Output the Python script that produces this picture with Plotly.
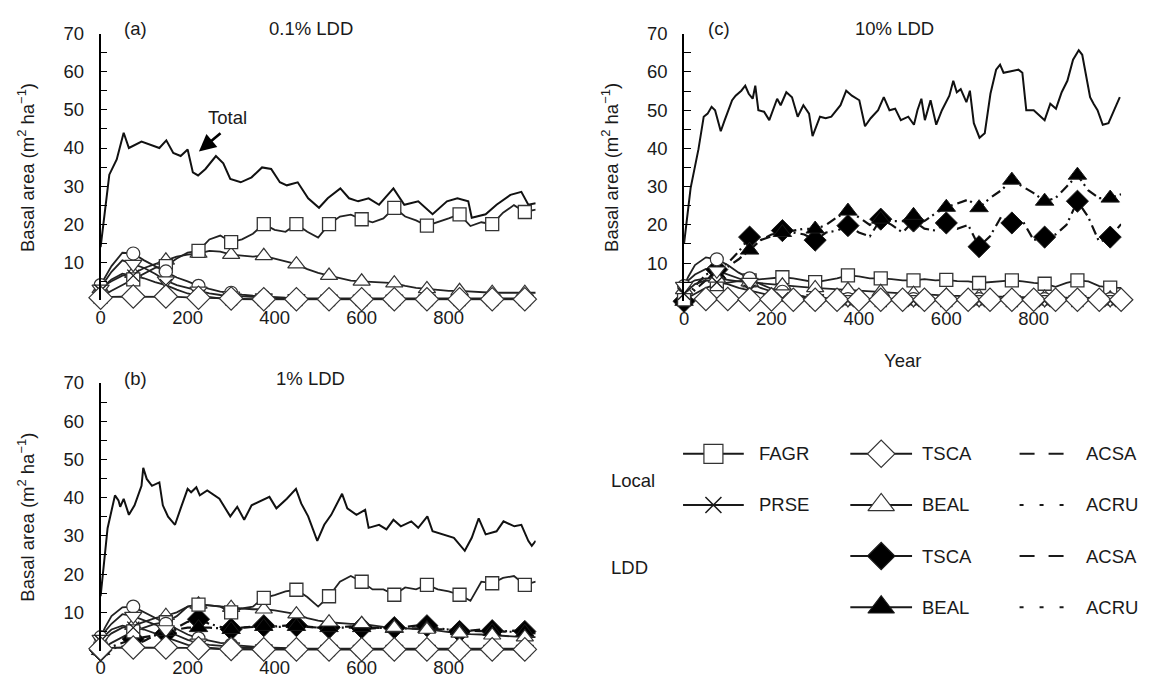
import plotly.graph_objects as go

# The page body adds an 8 px margin, so the figure is drawn 8 px smaller and all
# reference pixel positions are shifted by that offset.
PAGE_W, PAGE_H = 1150, 683
OFF = 8
W, H = PAGE_W - OFF, PAGE_H - OFF
FONT = "Liberation Sans, Arial, Helvetica, sans-serif"
INK = "#1a1a1a"
FS = 18.5

# ---------------- data ----------------
YEARS = [0, 10, 25, 50, 75, 100, 125, 150, 175, 200, 225, 250, 275, 300, 325, 350, 375, 400,
         425, 450, 475, 500, 525, 550, 575, 600, 625, 650, 675, 700, 725, 750, 775, 800, 825,
         850, 875, 900, 925, 950, 975, 1000]

# Panel (a) 0.1% LDD
TOTAL_A_YR = [0, 20, 37, 53, 65, 94, 135, 151, 167, 184, 200, 212, 224, 241, 265, 282, 298, 322, 347,
              371, 392, 412, 428, 453, 477, 502, 522, 551, 571, 592, 616, 640, 673, 698, 730, 763,
              796, 820, 845, 853, 885, 910, 942, 967, 983, 1000]
TOTAL_A = [14, 33, 37, 44, 40, 41.7, 40, 42, 38.7, 37.9, 39.6, 33.6, 32.8, 34.5, 37.9, 36, 31.9, 31,
           32.3, 34.9, 34.5, 31, 30.2, 31, 26.8, 24.3, 26.8, 29.4, 26.8, 26, 26.8, 25.1, 29.4, 25.1,
           26, 22.6, 26, 26.8, 26, 21.7, 22.6, 25.1, 27.7, 28.5, 25.1, 25.5]
FAGR_A = [1.0, 1.5, 2.5, 4.0, 5.5, 7.0, 8.5, 9.0, 11.0, 12.5, 13.0, 16.0, 17.0, 15.3, 16.0, 17.5, 20.0,
          18.5, 18.0, 20.0, 18.0, 16.5, 20.0, 22.0, 22.5, 21.3, 20.5, 21.5, 24.3, 22.0, 21.0, 19.6,
          20.5, 21.5, 22.6, 19.5, 20.5, 20.0, 23.0, 25.0, 23.2, 23.8]
BEAL_A = [3, 4, 5, 6.5, 7, 8.5, 9.5, 10.5, 11.5, 12, 12.3, 13, 12.8, 12, 11.8, 11.5, 11.7, 11, 10.2,
          9.5, 8.2, 7.2, 6.5, 5.8, 5.2, 5, 4.8, 4.6, 4.5, 3.8, 3.3, 3, 2.7, 2.5, 2.5, 2.3, 2.1, 2,
          2, 2, 2, 2]
ACSA_A = [4, 6, 9, 12.5, 12.3, 10.5, 9, 7.6, 6, 5, 3.8, 3, 2.3, 2, 1.5, 1.2, 1, 0.8, 0.7, 0.6, 0.6,
          0.6, 0.5, 0.5, 0.5, 0.5, 0.5, 0.5, 0.5, 0.5, 0.5, 0.5, 0.5, 0.5, 0.5, 0.5, 0.5, 0.5, 0.5,
          0.5, 0.5, 0.5]
ACRU_A = [3, 5, 7.5, 10.5, 9.5, 8.5, 7, 5.2, 4, 3.3, 2.5, 1.8, 1.4, 1.2, 1, 0.8, 0.7, 0.6, 0.5, 0.5,
          0.4, 0.4, 0.4, 0.4, 0.4, 0.4, 0.4, 0.4, 0.4, 0.4, 0.4, 0.4, 0.4, 0.4, 0.4, 0.4, 0.4, 0.4,
          0.4, 0.4, 0.4, 0.4]
PRSE_A = [2.5, 4, 5.5, 7, 6.5, 5.8, 4.8, 4, 2.8, 1.8, 1.2, 0.8, 0.5, 0.3, 0.2, 0.1, 0.1, 0.1, 0.1,
          0.1, 0.1, 0.1, 0.1, 0.1, 0.1, 0.1, 0.1, 0.1, 0.1, 0.1, 0.1, 0.1, 0.1, 0.1, 0.1, 0.1, 0.1,
          0.1, 0.1, 0.1, 0.1, 0.1]
TSCA_A = [0.7, 0.8, 0.9, 1, 1, 1, 1, 1, 0.9, 0.8, 0.7, 0.6, 0.5, 0.5, 0.4, 0.3, 0.3, 0.3, 0.3, 0.3,
          0.3, 0.3, 0.3, 0.3, 0.3, 0.3, 0.3, 0.3, 0.3, 0.3, 0.3, 0.3, 0.3, 0.3, 0.3, 0.3, 0.3, 0.3,
          0.3, 0.3, 0.3, 0.3]

# Panel (b) 1% LDD
TOTAL_B_YR = [0, 16, 33, 41, 45, 53, 65, 78, 94, 98, 106, 118, 135, 143, 155, 171, 184, 200, 208, 220,
              228, 245, 273, 298, 314, 330, 347, 363, 388, 404, 428, 449, 461, 477, 498, 514, 530,
              555, 567, 588, 608, 616, 640, 657, 673, 690, 714, 730, 751, 763, 787, 812, 837, 853,
              869, 885, 910, 926, 951, 967, 983, 991, 1000]
TOTAL_B = [14.2, 32, 40.6, 39.3, 37.6, 39.7, 35.5, 38, 43.1, 47.8, 44.9, 43.1, 44, 38, 35, 32.9, 37.2,
           42.3, 41.4, 42.7, 40.6, 41.9, 39.7, 35.1, 37.6, 34.2, 38, 38.9, 40.2, 37.2, 39.7, 42.3,
           38.5, 35.1, 28.7, 32.9, 35.5, 41, 37.2, 35.5, 36.8, 32.1, 32.9, 31.7, 34.2, 32.5, 33.8,
           32.1, 35.1, 31.2, 30.4, 29.5, 26.1, 29.5, 34.6, 30.4, 31.2, 33.8, 32.5, 32.9, 28.7, 27.4,
           28.7]
FAGR_B = [0.5, 1, 2, 3.5, 5, 6, 7, 7.4, 9, 11.5, 12, 11.8, 11.5, 10, 11, 11.5, 13.8, 14.5, 15.5, 15.9,
          14, 11.5, 14.2, 18, 19.5, 18, 16, 16, 14.6, 16.5, 16, 17.2, 16, 15.5, 14.6, 13, 18, 17.6,
          19, 19.5, 17.2, 18]
BEAL_B = [2, 3, 4.5, 6, 6.5, 7.5, 8.5, 9.1, 10, 11.5, 12.1, 11.8, 11.5, 11.2, 11, 10.8, 10.8, 10.5,
          10, 9.5, 8.5, 7.8, 7.4, 7.2, 7, 7, 6.5, 6.2, 6, 5.8, 5.6, 5.5, 5.2, 4.8, 4.5, 4.3, 4.2, 4,
          3.8, 3.7, 3.5, 3.5]
ACSA_B = [3.5, 6, 9, 11.3, 11.5, 10, 8.5, 7, 5.5, 4.2, 3.2, 2.5, 2, 1.5, 1.2, 1, 0.8, 0.7, 0.6, 0.6,
          0.5, 0.5, 0.5, 0.5, 0.5, 0.5, 0.5, 0.5, 0.5, 0.5, 0.5, 0.5, 0.5, 0.5, 0.5, 0.5, 0.5, 0.5,
          0.5, 0.5, 0.5, 0.5]
ACRU_B = [3, 5, 7, 9.5, 9, 8, 6.8, 5.5, 4, 2.8, 2, 1.5, 1.2, 1, 0.8, 0.6, 0.5, 0.5, 0.4, 0.4, 0.4,
          0.4, 0.4, 0.4, 0.4, 0.4, 0.4, 0.4, 0.4, 0.4, 0.4, 0.4, 0.4, 0.4, 0.4, 0.4, 0.4, 0.4, 0.4,
          0.4, 0.4, 0.4]
PRSE_B = [2.5, 4, 5.5, 6.5, 6, 5.5, 4.5, 3.5, 2.5, 1.5, 1, 0.6, 0.4, 0.2, 0.2, 0.1, 0.1, 0.1, 0.1,
          0.1, 0.1, 0.1, 0.1, 0.1, 0.1, 0.1, 0.1, 0.1, 0.1, 0.1, 0.1, 0.1, 0.1, 0.1, 0.1, 0.1, 0.1,
          0.1, 0.1, 0.1, 0.1, 0.1]
TSCA_B = [0.5, 0.6, 0.7, 0.8, 0.8, 0.8, 0.8, 0.8, 0.7, 0.7, 0.6, 0.5, 0.5, 0.4, 0.4, 0.3, 0.3, 0.3,
          0.3, 0.3, 0.3, 0.3, 0.3, 0.3, 0.3, 0.3, 0.3, 0.3, 0.3, 0.3, 0.3, 0.3, 0.3, 0.3, 0.3, 0.3,
          0.3, 0.3, 0.3, 0.3, 0.3, 0.3]
TSCA_LDD_B = [0, 0.3, 1, 2, 3, 3.5, 4, 4.5, 6, 7.5, 8.2, 7, 6.2, 5.6, 6, 6.3, 6.5, 6.3, 6.5, 6.5, 6.2,
              6, 6, 6.2, 6.3, 6, 5.8, 6, 6, 6.2, 6.5, 6.5, 5.8, 5.5, 5, 5.2, 5.5, 5.2, 5, 5.2, 5, 4.5]
BEAL_LDD_B = [0, 0.2, 0.5, 1, 1.5, 2.5, 4, 5, 5.5, 6, 6, 6, 5.8, 5.5, 6, 6.2, 6.3, 6.2, 6.2, 6.3, 6.2,
              6, 6, 6, 6.1, 6, 6, 5.9, 5.8, 5.8, 5.8, 5.8, 5.6, 5.5, 5.2, 5.2, 5.1, 5, 5, 4.9, 4.8, 4.8]

# Panel (c) 10% LDD
TOTAL_C_YR = [0, 15, 33, 45, 54, 63, 71, 80, 84, 93, 101, 110, 118, 131, 140, 148, 157, 163, 170, 183,
              195, 213, 221, 234, 247, 260, 273, 286, 294, 311, 324, 337, 358, 371, 384, 401, 414,
              427, 444, 457, 470, 483, 496, 513, 526, 534, 543, 551, 564, 577, 590, 607, 616, 624,
              633, 646, 654, 663, 676, 688, 701, 714, 723, 731, 748, 765, 774, 783, 800, 817, 825,
              838, 851, 864, 877, 890, 903, 911, 920, 929, 937, 946, 958, 971, 984, 997]
TOTAL_C = [15.1, 29.6, 39.8, 48.3, 49.1, 50.9, 50, 46.6, 44.5, 47.4, 50, 52.6, 53.8, 55.1, 56.4, 54.3,
           53, 56.4, 50, 49.6, 47.4, 53, 51.3, 54.7, 53.4, 48.3, 51.3, 49.1, 43.2, 48.3, 47.9, 48.3,
           51.3, 55.1, 53.8, 52.6, 45.8, 47.9, 50, 53.4, 50, 50.4, 47.4, 48.3, 46.2, 50, 53, 47.4,
           52.6, 46.2, 50, 53.8, 57.7, 54.7, 55.5, 52.1, 55.1, 46.6, 42.8, 44, 54.3, 60.6, 61.9,
           59.8, 60.2, 60.6, 59.8, 50, 50, 48.3, 47.4, 51.7, 50.4, 54.7, 57.7, 63.2, 65.7, 64.5,
           59.4, 53.4, 51.7, 50, 46.2, 46.6, 50, 53.4]
FAGR_C = [0.5, 1, 2, 3.5, 4.5, 5, 5.3, 5.5, 5.8, 6, 6.3, 6, 5.5, 5, 5.5, 6, 6.8, 6.5, 6, 6, 5.8, 5.5,
          5.5, 5.8, 5.5, 5.6, 5.3, 5.2, 4.8, 5, 5.3, 5.5, 5.2, 4.8, 4.6, 3.8, 4.8, 5.5, 5.2, 4, 3.6,
          3.5]
BEAL_C = [3, 4.5, 5.5, 6, 6, 5.5, 5.2, 5, 4.7, 4.5, 4.2, 4, 3.7, 3.5, 3.3, 3.1, 3, 2.8, 2.6, 2.5, 2.3,
          2.1, 2, 1.8, 1.6, 1.5, 1.4, 1.3, 1.2, 1.2, 1.2, 1.2, 1.1, 1, 1, 1, 1, 1, 0.9, 0.9, 0.8, 0.8]
ACSA_C = [4, 6.5, 9.5, 11.5, 11, 9.5, 7.5, 6, 4.5, 3.3, 2.5, 1.8, 1.3, 1, 0.8, 0.7, 0.6, 0.6, 0.6,
          0.6, 0.6, 0.6, 0.6, 0.6, 0.6, 0.6, 0.6, 0.6, 0.6, 0.6, 0.6, 0.6, 0.6, 0.6, 0.6, 0.6, 0.6,
          0.6, 0.6, 0.6, 0.6, 0.6]
ACRU_C = [4, 5.5, 7, 8.5, 8, 7, 6, 5, 3.5, 2.6, 2, 1.5, 1.1, 0.8, 0.7, 0.5, 0.5, 0.5, 0.5, 0.5, 0.5,
          0.5, 0.5, 0.5, 0.5, 0.5, 0.5, 0.5, 0.5, 0.5, 0.5, 0.5, 0.5, 0.5, 0.5, 0.5, 0.5, 0.5, 0.5,
          0.5, 0.5, 0.5]
PRSE_C = [2, 3, 4.5, 5.5, 5, 4.5, 3.5, 2.8, 2, 1.3, 0.8, 0.5, 0.3, 0.2, 0.2, 0.1, 0.1, 0.1, 0.1, 0.1,
          0.1, 0.1, 0.1, 0.1, 0.1, 0.1, 0.1, 0.1, 0.1, 0.1, 0.1, 0.1, 0.1, 0.1, 0.1, 0.1, 0.1, 0.1,
          0.1, 0.1, 0.1, 0.1]
TSCA_C = [0.3, 0.4, 0.5, 0.6, 0.6, 0.6, 0.6, 0.5, 0.5, 0.5, 0.4, 0.4, 0.4, 0.4, 0.4, 0.4, 0.4, 0.4,
          0.4, 0.4, 0.4, 0.4, 0.4, 0.4, 0.4, 0.4, 0.4, 0.4, 0.4, 0.4, 0.4, 0.4, 0.4, 0.4, 0.4, 0.4,
          0.4, 0.4, 0.4, 0.4, 0.4, 0.4]
TSCA_LDD_C = [0, 1.5, 4, 7, 8.3, 10, 13, 16.8, 16, 17, 18.5, 18, 17.5, 16, 18, 18.5, 19.8, 18, 17, 21.5,
              20, 18, 21, 19, 18.5, 20.5, 19, 20, 14.3, 17, 22, 20.5, 21, 16, 16.8, 17.5, 20, 26.2, 22,
              15.5, 16.8, 20.2]
BEAL_LDD_C = [0, 1, 3, 5.5, 7, 9, 11, 13.4, 16, 17.5, 18, 18.5, 19, 18.9, 20, 22, 23.6, 22, 20, 21.5,
              21, 21, 22.5, 21, 23, 24.6, 25.5, 26.6, 24.5, 27, 29, 31.7, 30, 28.3, 26.2, 27, 30, 33, 29,
              27, 27, 28]

X_TICKS = [0, 200, 400, 600, 800]
Y_TICKS = [10, 20, 30, 40, 50, 60, 70]
Y_TITLE = "Basal area (m<sup>2</sup> ha<sup>−1</sup>)"

# ---------------- layout geometry (page pixels of the reference) ----------------
PANELS = {
    "a": dict(n="", x0=96, x1=533, yt=23, yb=294, tag="(a)", title="0.1% LDD"),
    "b": dict(n="2", x0=96, x1=533, yt=378, yb=650, tag="(b)", title="1% LDD"),
    "c": dict(n="3", x0=682, x1=1121, yt=23, yb=295, tag="(c)", title="10% LDD"),
}


def fx(p):
    return (p - OFF) / W


def fy(p):
    return 1 - (p - OFF) / H


STYLE = {
    "FAGR": dict(symbol="square", size=13, color="white", lw=1.3),
    "TSCA": dict(symbol="diamond", size=18, color="white", lw=1.2),
    "PRSE": dict(symbol="x-thin", size=12, color=INK, lw=1.3),
    "BEAL": dict(symbol="triangle-up", size=15, color="white", lw=1.2),
    "ACSA": dict(symbol="circle", size=13, color="white", lw=1.2),
    "ACRU": dict(symbol="triangle-down", size=15, color="white", lw=1.2),
    "TSCA_LDD": dict(symbol="diamond", size=17, color="black", lw=1),
    "BEAL_LDD": dict(symbol="triangle-up", size=16, color="black", lw=1),
}

SERIES = {
    "a": [("BEAL", BEAL_A), ("FAGR", FAGR_A), ("ACSA", ACSA_A), ("ACRU", ACRU_A),
          ("PRSE", PRSE_A), ("TSCA", TSCA_A)],
    "b": [("TSCA_LDD", TSCA_LDD_B), ("BEAL_LDD", BEAL_LDD_B), ("BEAL", BEAL_B), ("FAGR", FAGR_B),
          ("ACSA", ACSA_B), ("ACRU", ACRU_B), ("PRSE", PRSE_B), ("TSCA", TSCA_B)],
    "c": [("TSCA_LDD", TSCA_LDD_C), ("BEAL_LDD", BEAL_LDD_C), ("FAGR", FAGR_C), ("BEAL", BEAL_C),
          ("ACSA", ACSA_C), ("ACRU", ACRU_C), ("PRSE", PRSE_C), ("TSCA", TSCA_C)],
}
TOTALS = {"a": (TOTAL_A_YR, TOTAL_A), "b": (TOTAL_B_YR, TOTAL_B), "c": (TOTAL_C_YR, TOTAL_C)}

fig = go.Figure()

for key, P in PANELS.items():
    xa, ya = "x" + P["n"], "y" + P["n"]
    for name, vals in SERIES[key]:
        ldd = name.endswith("LDD")
        fig.add_trace(go.Scatter(
            x=YEARS, y=vals, mode="lines", xaxis=xa, yaxis=ya, showlegend=False,
            line=dict(color="#222" if not ldd else "#111", width=1.8 if not ldd else 2.2,
                      dash="solid" if not ldd else "10px,4px,2px,5px"),
            hoverinfo="skip"))
    tx, ty = TOTALS[key]
    fig.add_trace(go.Scatter(x=tx, y=ty, mode="lines", xaxis=xa, yaxis=ya, showlegend=False,
                             line=dict(color="#111", width=2), hoverinfo="skip"))
    for name, vals in SERIES[key]:
        st = STYLE[name]
        step = 50 if (key == "c" and name == "TSCA") else 75
        idx = [i for i, yr in enumerate(YEARS) if yr % step == 0 and not (step == 50 and yr == 0)]
        fig.add_trace(go.Scatter(
            x=[YEARS[i] for i in idx], y=[vals[i] for i in idx], mode="markers",
            xaxis=xa, yaxis=ya, showlegend=False, cliponaxis=False,
            marker=dict(symbol=st["symbol"], size=st["size"], color=st["color"],
                        line=dict(color="#333" if st["color"] == "white" else INK, width=st["lw"])),
            hoverinfo="skip"))

axis_font = dict(family=FONT, size=FS, color=INK)
layout = dict(width=W, height=H, margin=dict(l=0, r=0, t=0, b=0),
              paper_bgcolor="white", plot_bgcolor="rgba(0,0,0,0)", font=axis_font,
              showlegend=False)
annotations = []


def text_at(px, py, text, size=FS, **kw):
    d = dict(x=fx(px), y=fy(py), xref="paper", yref="paper", text=text, showarrow=False,
             xanchor="center", yanchor="middle", font=dict(family=FONT, size=size, color=INK))
    d.update(kw)
    annotations.append(d)


for key, P in PANELS.items():
    n = P["n"]
    layout["xaxis" + n] = dict(
        domain=[fx(P["x0"]), fx(P["x1"])], range=[0, 1000], anchor="y" + n,
        showline=False, showgrid=False, zeroline=False, ticks="",
        tickvals=X_TICKS, ticktext=[str(v) for v in X_TICKS], tickfont=axis_font,
        ticklabelstandoff=4, fixedrange=True)
    layout["yaxis" + n] = dict(
        domain=[fy(P["yb"]), fy(P["yt"])], range=[0, 70], anchor="x" + n,
        showline=True, linecolor="black", linewidth=1.5, showgrid=False, zeroline=False,
        ticks="inside", ticklen=7, tickwidth=1.3, tickcolor="black",
        tickvals=Y_TICKS, ticktext=[str(v) for v in Y_TICKS], tickfont=axis_font,
        ticklabelstandoff=11,
        minor=dict(ticks="inside", ticklen=7, tickwidth=1.3, tickcolor="black",
                   tick0=0, dtick=5, showgrid=False),
        fixedrange=True)
    cy = (P["yt"] + P["yb"]) / 2
    text_at(P["x0"] - 75, cy, Y_TITLE, textangle=-90)
    text_at(P["x0"] + 35, P["yt"] - 5, P["tag"])
    text_at(P["x0"] + 211, P["yt"] - 5, P["title"])

PC = PANELS["c"]
text_at((PC["x0"] + PC["x1"]) / 2, 355, "Year")

# "Total" pointer in panel (a)
annotations.append(dict(x=291, y=47.9, xref="x", yref="y", text="Total", showarrow=False,
                        font=dict(family=FONT, size=FS, color=INK)))
annotations.append(dict(x=226, y=39.1, ax=279, ay=44.2, xref="x", yref="y", axref="x", ayref="y",
                        text="", showarrow=True, arrowhead=2, arrowsize=1.3, arrowwidth=2.6,
                        arrowcolor="black"))

# ---------------- key (overlay axis in page-pixel units) ----------------
layout["xaxis4"] = dict(domain=[0, 1], range=[OFF, OFF + W], visible=False, anchor="y4",
                        fixedrange=True)
layout["yaxis4"] = dict(domain=[0, 1], range=[OFF + H, OFF], visible=False, anchor="x4",
                        fixedrange=True)

ROWS = [450, 502, 554, 606]
COLS = [dict(l0=681, l1=742, text=755), dict(l0=849, l1=911, text=919),
        dict(l0=1019, l1=1069, text=1084)]
KEY = [
    (0, 0, "FAGR", "FAGR"), (0, 1, "PRSE", "PRSE"),
    (1, 0, "TSCA", "TSCA"), (1, 1, "BEAL", "BEAL"),
    (1, 2, "TSCA", "TSCA_LDD"), (1, 3, "BEAL", "BEAL_LDD"),
    (2, 0, "ACSA", "dash"), (2, 1, "ACRU", "dot"), (2, 2, "ACSA", "dash"), (2, 3, "ACRU", "dot"),
]
KEY_SIZE = {"FAGR": 19, "PRSE": 16, "TSCA": 21, "BEAL": 23, "TSCA_LDD": 21, "BEAL_LDD": 23}
for c, r, label, sty in KEY:
    C = COLS[c]
    yv = ROWS[r]
    if sty in ("dash", "dot"):
        dash = "15px,14px" if sty == "dash" else "4px,16px"
        fig.add_trace(go.Scatter(x=[C["l0"], C["l1"]], y=[yv, yv], mode="lines", xaxis="x4",
                                 yaxis="y4", showlegend=False, hoverinfo="skip",
                                 line=dict(color=INK, width=2, dash=dash)))
    else:
        st = STYLE[sty]
        fig.add_trace(go.Scatter(x=[C["l0"], C["l1"]], y=[yv, yv], mode="lines", xaxis="x4",
                                 yaxis="y4", showlegend=False, hoverinfo="skip",
                                 line=dict(color=INK, width=2)))
        fig.add_trace(go.Scatter(
            x=[(C["l0"] + C["l1"]) / 2], y=[yv], mode="markers", xaxis="x4", yaxis="y4",
            showlegend=False, hoverinfo="skip",
            marker=dict(symbol=st["symbol"], size=KEY_SIZE[sty], color=st["color"],
                        line=dict(color="#333" if st["color"] == "white" else INK,
                                  width=1.5 if sty == "PRSE" else 1.2))))
    text_at(C["text"], yv, label, xanchor="left")

text_at(607, 477, "Local", xanchor="left")
text_at(607, 566, "LDD", xanchor="left")

layout["annotations"] = annotations
fig.update_layout(**layout)
fig.write_html("out.html")
